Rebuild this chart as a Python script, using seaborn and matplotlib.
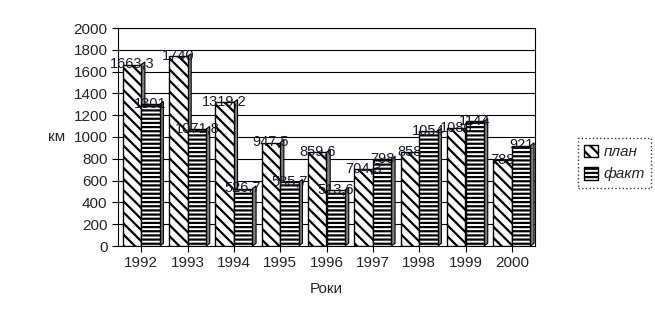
import matplotlib
matplotlib.use("Agg")
import matplotlib.pyplot as plt
import seaborn as sns
import pandas as pd
from matplotlib.patches import Polygon, Patch

years = ["1992", "1993", "1994", "1995", "1996", "1997", "1998", "1999", "2000"]
plan = [1663.3, 1740, 1319.2, 947.5, 859.6, 704.3, 858, 1080, 788]
fact = [1301, 1071.8, 526.7, 585.7, 513.6, 798, 1054, 1144, 921]
series = ["план", "факт"]

df = pd.DataFrame({
    "year": years * 2,
    "value": plan + fact,
    "series": [series[0]] * len(years) + [series[1]] * len(years),
})

sns.set_style("white")
plt.rcParams["font.family"] = ["Arial", "Liberation Sans", "DejaVu Sans"]
plt.rcParams["hatch.linewidth"] = 1.6

fig = plt.figure(figsize=(6.55, 3.23), dpi=100)
ax = fig.add_axes([118 / 655, 77 / 323, (535 - 118) / 655, (246 - 28) / 323])

sns.barplot(data=df, x="year", y="value", hue="series", hue_order=series,
            palette=["white", "white"], edgecolor="black", linewidth=1.0,
            width=0.8, ax=ax, legend=False, zorder=3)

hatches = {series[0]: "\\\\\\", series[1]: "----"}
n = len(years)
for i, p in enumerate(ax.patches[:2 * n]):
    s = series[0] if i < n else series[1]
    p.set_hatch(hatches[s])
    # side face (pseudo 3D)
    x1 = p.get_x() + p.get_width()
    h = p.get_height()
    d = 0.08
    side = Polygon([[x1, 0], [x1 + d, 25], [x1 + d, h + 25], [x1, h]],
                   closed=True, facecolor="#808080", edgecolor="black",
                   linewidth=0.8, zorder=2.9)
    ax.add_patch(side)
    v = plan[i] if i < n else fact[i - n]
    txt = (f"{v:g}").replace(".", ",")
    ax.text(p.get_x() + p.get_width() / 2, h - 60, txt, ha="center",
            va="bottom", fontsize=10.5, color="#1a1a2e", zorder=5)

ax.set_ylim(0, 2000)
ax.set_xlim(-0.5, n - 0.5)
ax.set_yticks(range(0, 2001, 200))
for y in range(200, 2001, 200):
    ax.axhline(y, color="black", linewidth=0.8, zorder=1)
ax.tick_params(axis="both", labelsize=11, length=4, direction="out",
               left=True, bottom=True, color="black")
for sp in ax.spines.values():
    sp.set_color("black")
    sp.set_linewidth(0.8)
ax.set_xlabel("Роки", fontsize=11, labelpad=8)
ax.set_ylabel("км", fontsize=11, rotation=0, labelpad=12, va="center")

# legend
handles = [Patch(facecolor="white", edgecolor="black", hatch=hatches[s]) for s in series]
leg = fig.legend(handles, series, loc="center left", bbox_to_anchor=(570 / 655, 1 - 163 / 323),
                 frameon=True, prop={"style": "italic", "size": 11},
                 handlelength=0.9, handleheight=0.9, handletextpad=0.4,
                 borderpad=0.4, labelspacing=0.5, fancybox=False)
leg.get_frame().set_edgecolor("black")
leg.get_frame().set_linestyle(":")
leg.get_frame().set_linewidth(1.0)

fig.savefig("out.png", dpi=100)
